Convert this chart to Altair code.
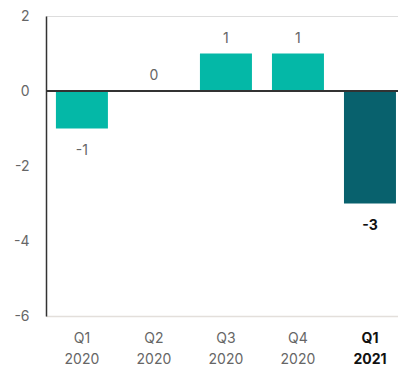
import altair as alt
import pandas as pd

quarters = ["Q1 2020", "Q2 2020", "Q3 2020", "Q4 2020", "Q1 2021"]
values = [-1, 0, 1, 1, -3]
y_ticks = [-6, -4, -2, 0, 2]

df = pd.DataFrame({"quarter": quarters, "value": values})
LAST = quarters[-1]
FONT = "Inter"

x = alt.X(
    "quarter:N",
    sort=quarters,
    title=None,
    scale=alt.Scale(paddingInner=0.278, paddingOuter=0.083, align=0.83),
    axis=alt.Axis(
        labelExpr="split(datum.label, ' ')",
        labelAngle=0,
        labelFont=FONT,
        labelFontSize=14,
        labelLineHeight=21,
        labelPadding=15,
        labelBaseline="top",
        labelColor={"condition": {"test": f"datum.value == '{LAST}'", "value": "#111111"}, "value": "#666666"},
        labelFontWeight={"condition": {"test": f"datum.value == '{LAST}'", "value": "bold"}, "value": "normal"},
        ticks=False,
        domainColor="#e3dfdb",
        domainWidth=1.5,
    ),
)
y = alt.Y(
    "value:Q",
    title=None,
    scale=alt.Scale(domain=[-6, 2], nice=False, zero=False),
    axis=alt.Axis(
        values=y_ticks,
        grid=False,
        ticks=False,
        labelExpr="toString(datum.value)",
        labelFont=FONT,
        labelFontSize=14,
        labelColor="#666666",
        labelPadding=17,
        domainColor="#333333",
        domainWidth=1.5,
    ),
)

base = alt.Chart(df).transform_calculate(label="toString(datum.value)")

bars = base.mark_bar().encode(
    x=x,
    y=y,
    y2=alt.datum(0),
    color=alt.condition(
        f"datum.quarter == '{LAST}'", alt.value("#08616d"), alt.value("#04b8a7")
    ),
)

zero = base.mark_rule(color="#333333", strokeWidth=1.5).encode(
    y=alt.datum(0)
)

pos_labels = base.transform_filter("datum.value >= 0").mark_text(
    baseline="alphabetic", dy=-11, font=FONT, fontSize=14, color="#666666"
).encode(x=x, y=y, text="label:N")

neg_labels = base.transform_filter(f"datum.value < 0 && datum.quarter != '{LAST}'").mark_text(
    baseline="alphabetic", dy=26, font=FONT, fontSize=14, color="#666666"
).encode(x=x, y=y, text="label:N")

last_label = base.transform_filter(f"datum.quarter == '{LAST}'").mark_text(
    baseline="alphabetic", dy=26, font=FONT, fontSize=14, color="#111111", fontWeight="bold"
).encode(x=x, y=y, text="label:N")

chart = (
    alt.layer(bars, zero, pos_labels, neg_labels, last_label)
    .properties(
        width=352,
        height=300,
        padding={"left": 46, "top": 16, "right": 0, "bottom": 55},
        autosize=alt.AutoSizeParams(type="none"),
    )
    .configure_view(stroke=None)
    .configure(background="white")
)

chart.save("out.html", embed_options={"renderer": "svg", "actions": False})
